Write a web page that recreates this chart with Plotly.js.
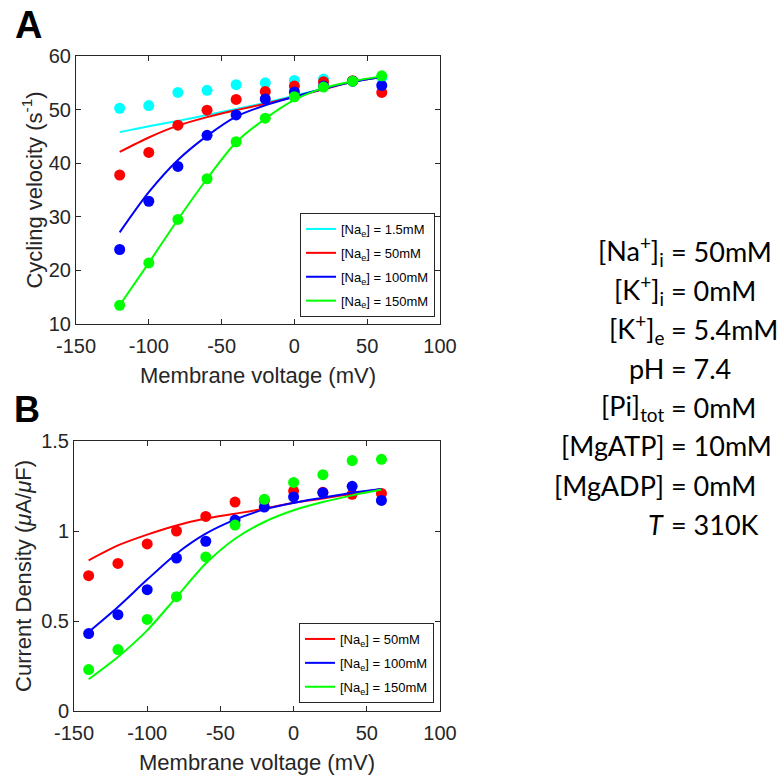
<!DOCTYPE html>
<html>
<head>
<meta charset="utf-8">
<script src="https://cdn.plot.ly/plotly-3.0.1.min.js"></script>
<style>html,body{margin:0;padding:0;background:#fff;}#chart{width:783px;height:775px;}</style>
</head>
<body>
<div id="chart"></div>
<script>
// ---------- Panel A data (cycling velocity, s^-1) ----------
const vA = [-120, -100, -80, -60, -40, -20, 0, 20, 40, 60];
const dotsA_1p5 = [50.25, 50.75, 53.2, 53.6, 54.65, 55.0, 55.45, 55.7, 55.3, 56.0];
const dotsA_50  = [37.8, 42.0, 47.1, 49.9, 51.9, 53.4, 54.4, 55.2, 55.4, 53.2];
const dotsA_100 = [23.9, 32.9, 39.4, 45.2, 49.0, 52.0, 53.3, 54.4, 55.3, 54.5];
const dotsA_150 = [13.5, 21.4, 29.5, 37.1, 44.0, 48.4, 52.4, 54.2, 55.3, 56.3];
const fitA_1p5 = [45.8, 46.9, 47.9, 49.0, 50.1, 51.3, 52.6, 53.9, 55.2, 56.1];
const fitA_50  = [42.1, 44.8, 47.0, 48.6, 49.9, 51.1, 52.4, 53.8, 55.2, 56.1];
const fitA_100 = [27.1, 34.6, 40.6, 45.1, 48.7, 50.8, 52.4, 53.9, 55.2, 56.1];
const fitA_150 = [13.5, 21.4, 29.5, 37.1, 43.9, 48.3, 51.8, 54.0, 55.3, 56.2];

// ---------- Panel B data (current density, uA/uF) ----------
const vB = [-140, -120, -100, -80, -60, -40, -20, 0, 20, 40, 60];
const dotsB_50  = [0.752, 0.820, 0.928, 1.000, 1.081, 1.161, 1.170, 1.222, 1.215, 1.204, 1.209];
const dotsB_100 = [0.430, 0.535, 0.674, 0.850, 0.943, 1.061, 1.133, 1.189, 1.213, 1.248, 1.170];
const dotsB_150 = [0.230, 0.341, 0.509, 0.635, 0.856, 1.033, 1.176, 1.270, 1.313, 1.391, 1.398];
const fitB_50  = [0.837, 0.920, 0.980, 1.031, 1.069, 1.096, 1.124, 1.157, 1.180, 1.207, 1.233];
const fitB_100 = [0.439, 0.578, 0.730, 0.874, 0.985, 1.063, 1.120, 1.156, 1.185, 1.213, 1.233];
const fitB_150 = [0.176, 0.300, 0.448, 0.633, 0.819, 0.957, 1.050, 1.115, 1.161, 1.198, 1.230];

// ---------- Ticks ----------
const xTickVals = [-150, -100, -50, 0, 50, 100];
const xTickText = ['-150', '-100', '-50', '0', '50', '100'];
const yTickValsA = [10, 20, 30, 40, 50, 60];
const yTickTextA = ['10', '20', '30', '40', '50', '60'];
const yTickValsB = [0, 0.5, 1, 1.5];
const yTickTextB = ['0', '0.5', '1', '1.5'];

// ---------- Text ----------
const namesA = ['[Na<sub>e</sub>] = 1.5mM', '[Na<sub>e</sub>] = 50mM', '[Na<sub>e</sub>] = 100mM', '[Na<sub>e</sub>] = 150mM'];
const namesB = ['[Na<sub>e</sub>] = 50mM', '[Na<sub>e</sub>] = 100mM', '[Na<sub>e</sub>] = 150mM'];
const condLHS = ['[Na<sup>+</sup>]<sub>i</sub>', '[K<sup>+</sup>]<sub>i</sub>', '[K<sup>+</sup>]<sub>e</sub>', 'pH', '[Pi]<sub>tot</sub>', '[MgATP]', '[MgADP]', '<i>T</i>'];
const condRHS = ['= 50mM', '= 0mM', '= 5.4mM', '= 7.4', '= 0mM', '= 10mM', '= 0mM', '= 310K'];

const cCyan = '#00ffff', cRed = '#ff0000', cBlue = '#0000ff', cGreen = '#00ff00';
const axisCol = '#262626';

function dots(x, y, col, xa, ya) {
  return {x: x, y: y, xaxis: xa, yaxis: ya, mode: 'markers', type: 'scatter',
    marker: {color: col, size: 11}, showlegend: false, hoverinfo: 'skip'};
}
function fit(x, y, col, xa, ya, name, leg, grp) {
  return {x: x, y: y, xaxis: xa, yaxis: ya, mode: 'lines', type: 'scatter', name: name,
    line: {color: col, width: 2, shape: 'spline', smoothing: 0.8}, legend: leg, legendgroup: grp, showlegend: true};
}

const traces = [
  dots(vA, dotsA_1p5, cCyan, 'x', 'y'), fit(vA, fitA_1p5, cCyan, 'x', 'y', namesA[0], 'legend', 'a1'),
  dots(vA, dotsA_50, cRed, 'x', 'y'),   fit(vA, fitA_50, cRed, 'x', 'y', namesA[1], 'legend', 'a2'),
  dots(vA, dotsA_100, cBlue, 'x', 'y'), fit(vA, fitA_100, cBlue, 'x', 'y', namesA[2], 'legend', 'a3'),
  dots(vA, dotsA_150, cGreen, 'x', 'y'), fit(vA, fitA_150, cGreen, 'x', 'y', namesA[3], 'legend', 'a4'),
  dots(vB, dotsB_50, cRed, 'x2', 'y2'),  fit(vB, fitB_50, cRed, 'x2', 'y2', namesB[0], 'legend2', 'b1'),
  dots(vB, dotsB_100, cBlue, 'x2', 'y2'), fit(vB, fitB_100, cBlue, 'x2', 'y2', namesB[1], 'legend2', 'b2'),
  dots(vB, dotsB_150, cGreen, 'x2', 'y2'), fit(vB, fitB_150, cGreen, 'x2', 'y2', namesB[2], 'legend2', 'b3')
];

const W = 783, H = 775;
const px = v => v / W, py = v => 1 - v / H;

const tickFont = {family: 'Liberation Sans, Arial, sans-serif', size: 20, color: axisCol};
const titleFont = {family: 'Liberation Sans, Arial, sans-serif', size: 22, color: axisCol};
function xax(domain, anchor) {
  return {domain: domain, anchor: anchor, range: [-150, 100], tickvals: xTickVals, ticktext: xTickText,
    ticks: 'inside', ticklen: 5, tickcolor: axisCol, showline: true, linecolor: axisCol, linewidth: 1,
    mirror: 'ticks', showgrid: false, zeroline: false, tickfont: tickFont, ticklabelstandoff: 4,
    title: {text: 'Membrane voltage (mV)', font: titleFont, standoff: 11}, automargin: false};
}
function yax(domain, anchor, range, vals, text, title, standoff) {
  return {domain: domain, anchor: anchor, range: range, tickvals: vals, ticktext: text,
    ticks: 'inside', ticklen: 5, tickcolor: axisCol, showline: true, linecolor: axisCol, linewidth: 1,
    mirror: 'ticks', showgrid: false, zeroline: false, tickfont: tickFont,
    title: {text: title, font: titleFont, standoff: standoff}, automargin: false};
}

const legFont = {family: 'Liberation Sans, Arial, sans-serif', size: 13, color: '#000'};
const annotations = [
  {text: '<b>A</b>', x: px(13), y: py(2), xref: 'paper', yref: 'paper', xanchor: 'left', yanchor: 'top',
   showarrow: false, font: {family: 'Liberation Sans, Arial, sans-serif', size: 38, color: '#000'}},
  {text: '<b>B</b>', x: px(12), y: py(387), xref: 'paper', yref: 'paper', xanchor: 'left', yanchor: 'top',
   showarrow: false, font: {family: 'Liberation Sans, Arial, sans-serif', size: 36, color: '#000'}}
];
const baselines = [260, 299, 338, 377, 416, 455, 494, 533];
const condFont = {family: 'Lato, sans-serif', size: 27, color: '#000'};
for (let i = 0; i < condLHS.length; i++) {
  annotations.push({text: condLHS[i], x: px(666), y: py(baselines[i] - 9), xref: 'paper', yref: 'paper',
    xanchor: 'right', yanchor: 'middle', showarrow: false, font: condFont});
  annotations.push({text: condRHS[i], x: px(669), y: py(baselines[i] - 9), xref: 'paper', yref: 'paper',
    xanchor: 'left', yanchor: 'middle', showarrow: false, font: condFont});
}

const layout = {
  width: W, height: H, margin: {l: 0, r: 0, t: 0, b: 0},
  paper_bgcolor: '#fff', plot_bgcolor: '#fff',
  xaxis: xax([px(76), px(440)], 'y'),
  yaxis: yax([py(324), py(56)], 'x', [10, 60], yTickValsA, yTickTextA, 'Cycling velocity (s<sup>-1</sup>)', 0),
  xaxis2: xax([px(74), px(440)], 'y2'),
  yaxis2: yax([py(711), py(441)], 'x2', [0, 1.5], yTickValsB, yTickTextB, 'Current Density (<i>μ</i>A/<i>μ</i>F)', 3),
  legend: {x: px(300), y: py(213), xanchor: 'left', yanchor: 'top', bgcolor: '#fff', bordercolor: axisCol,
    borderwidth: 1, font: legFont, traceorder: 'grouped', tracegroupgap: 4, itemwidth: 30},
  legend2: {x: px(299), y: py(623), xanchor: 'left', yanchor: 'top', bgcolor: '#fff', bordercolor: axisCol,
    borderwidth: 1, font: legFont, traceorder: 'grouped', tracegroupgap: 4, itemwidth: 30},
  annotations: annotations,
  showlegend: true
};

Plotly.newPlot('chart', traces, layout, {displayModeBar: false, staticPlot: true});
</script>
</body>
</html>
